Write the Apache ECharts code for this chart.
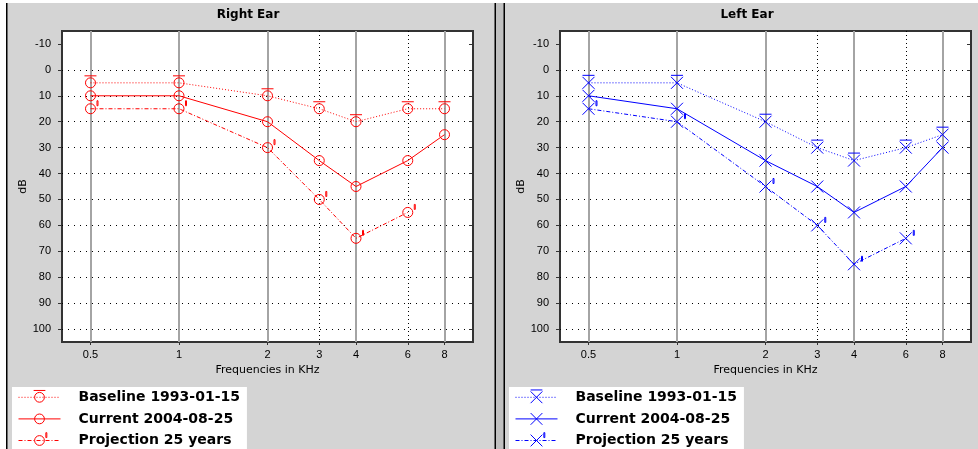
<!DOCTYPE html>
<html>
<head>
<meta charset="utf-8">
<title>Audiogram</title>
<script src="https://cdn.jsdelivr.net/npm/echarts@6/dist/echarts.min.js"></script>
<style>
  html, body { margin: 0; padding: 0; background: #ffffff; }
  #chart { width: 978px; height: 449px; }
</style>
</head>
<body>
<div id="chart"></div>
<script>
// Test frequencies (kHz) and hearing thresholds (dB HL)
const freqs = [0.5, 1, 2, 3, 4, 6, 8];

const rightBaseline   = [5, 5, 10, 15, 20, 15, 15];
const rightCurrent    = [10, 10, 20, 35, 45, 35, 25];
const rightProjection = [15, 15, 30, 50, 65, 55];

const leftBaseline    = [5, 5, 20, 30, 35, 30, 25];
const leftCurrent     = [10, 15, 35, 45, 55, 45, 30];
const leftProjection  = [15, 20, 45, 60, 75, 65];

// Axis ticks and grid lines
const dbTicks     = [-10, 0, 10, 20, 30, 40, 50, 60, 70, 80, 90, 100];
const dbGridLines = [0, 10, 20, 30, 40, 50, 60, 70, 80, 90, 100];
const octaveLines = [0.5, 1, 2, 4, 8];
const midOctaveLines = [3, 6];

const seriesNames = ['Baseline 1993-01-15', 'Current 2004-08-25', 'Projection 25 years'];

const RED = '#ff0000';
const BLUE = '#0000ff';
const AXIS_FONT = 'Liberation Sans';
const NAME_FONT = 'DejaVu Sans';

// Marker shapes, drawn in an 18x18 box centred on (9,9)
const BOX = 'M0 0M18 18';
const CIRCLE = 'M4 9A5 5 0 1 1 14 9A5 5 0 1 1 4 9Z';
const CROSS = 'M3 3L15 15M15 3L3 15';
const BAR_O = 'M3 2L15 2';
const BAR_X = 'M3 1.5L15 1.5';
const FLAG_O = 'M15.5 1L16.5 1L16.5 6L15.5 6Z';
const FLAG_X = 'M16.5 1L17.5 1L17.5 6L16.5 6Z';

const symbols = {
  right: [
    'path://' + BOX + CIRCLE + BAR_O,
    'path://' + BOX + CIRCLE,
    'path://' + BOX + CIRCLE + FLAG_O
  ],
  left: [
    'path://' + BOX + CROSS + BAR_X,
    'path://' + BOX + CROSS,
    'path://' + BOX + CROSS + FLAG_X
  ]
};
const lineTypes = [[1, 2], 'solid', [4, 2, 1, 2]];
const sideColor = { right: RED, left: BLUE };

function pairs(vals) {
  return vals.map((v, i) => [freqs[i], v]);
}

function makeSeries(side, idx, vals, axisIndex) {
  const color = sideColor[side];
  return {
    type: 'line',
    name: side + '|' + seriesNames[idx],
    xAxisIndex: axisIndex,
    yAxisIndex: axisIndex,
    data: pairs(vals),
    symbol: symbols[side][idx],
    symbolSize: 18,
    symbolKeepAspect: true,
    itemStyle: { color: 'rgba(0,0,0,0)', borderColor: color, borderWidth: 1 },
    lineStyle: { color: color, width: 1, type: lineTypes[idx] },
    emphasis: { disabled: true },
    z: 3
  };
}

function xAxesFor(grid) {
  const common = {
    gridIndex: grid,
    type: 'log',
    logBase: 2,
    min: 0.4,
    max: 10,
    axisLine: { show: false, onZero: false },
    axisLabel: { show: false },
    axisTick: { show: false },
    splitLine: { show: false }
  };
  return [
    Object.assign({}, common, {
      position: 'bottom',
      name: 'Frequencies in KHz',
      nameLocation: 'middle',
      nameGap: 19,
      nameTextStyle: { fontFamily: NAME_FONT, fontSize: 11, color: '#000' },
      axisTick: { show: true, length: 3, customValues: freqs, lineStyle: { color: '#333' } },
      axisLabel: {
        show: true, margin: 7, customValues: freqs,
        fontFamily: AXIS_FONT, fontSize: 11, color: '#000',
        formatter: v => String(v)
      }
    }),
    Object.assign({}, common, {
      position: 'top',
      axisTick: { show: false, customValues: octaveLines },
      splitLine: { show: true, lineStyle: { color: '#a4a4a4', width: 2 } }
    }),
    Object.assign({}, common, {
      position: 'top',
      axisTick: { show: false, customValues: midOctaveLines },
      splitLine: { show: true, lineStyle: { color: '#000', width: 1, type: [1, 3] } }
    })
  ];
}

function yAxesFor(grid) {
  const common = {
    gridIndex: grid,
    type: 'value',
    inverse: true,
    min: -15,
    max: 105,
    axisLine: { show: false, onZero: false },
    axisLabel: { show: false },
    axisTick: { show: false },
    splitLine: { show: false }
  };
  return [
    Object.assign({}, common, {
      position: 'left',
      name: 'dB',
      nameLocation: 'middle',
      nameGap: 26,
      nameTextStyle: { fontFamily: NAME_FONT, fontSize: 11, color: '#000' },
      axisTick: { show: true, length: 4, customValues: dbTicks, lineStyle: { color: '#333' } },
      axisLabel: {
        show: true, margin: 11, customValues: dbTicks,
        fontFamily: AXIS_FONT, fontSize: 11, color: '#000'
      }
    }),
    Object.assign({}, common, {
      position: 'right',
      axisTick: { show: true, inside: true, length: 4, customValues: dbTicks, lineStyle: { color: '#333' } }
    }),
    Object.assign({}, common, {
      position: 'left',
      axisTick: { show: false, customValues: dbGridLines },
      splitLine: { show: true, lineStyle: { color: '#000', width: 1, type: [1, 5] } }
    })
  ];
}

function legendFor(side, left) {
  const color = sideColor[side];
  return {
    orient: 'vertical',
    left: left,
    top: 387,
    height: 90,
    padding: [1, 7, 6, 6],
    backgroundColor: '#ffffff',
    itemWidth: 42,
    itemHeight: 22,
    itemGap: 3,
    selectedMode: false,
    data: seriesNames.map((n, i) => ({
      name: side + '|' + n,
      itemStyle: { color: 'rgba(0,0,0,0)', borderColor: color, borderWidth: 1 },
      lineStyle: { color: color, width: 1, type: lineTypes[i] }
    })),
    formatter: name => name.split('|')[1],
    textStyle: {
      fontFamily: NAME_FONT, fontWeight: 'bold', fontSize: 14, color: '#000',
      padding: [0, 0, 0, 13]
    }
  };
}

const gridBox = { top: 31, width: 411, height: 311, show: true, backgroundColor: '#ffffff', borderColor: '#333333', borderWidth: 2 };

const option = {
  animation: false,
  backgroundColor: '#d4d4d4',
  grid: [
    Object.assign({ left: 62 }, gridBox),
    Object.assign({ left: 560 }, gridBox)
  ],
  xAxis: xAxesFor(0).concat(xAxesFor(1)),
  yAxis: yAxesFor(0).concat(yAxesFor(1)),
  legend: [legendFor('right', 12), legendFor('left', 509)],
  graphic: {
    elements: [
      { type: 'rect', shape: { x: 0, y: 0, width: 978, height: 3 }, style: { fill: '#ffffff' }, silent: true },
      { type: 'rect', shape: { x: 0, y: 0, width: 6, height: 449 }, style: { fill: '#ffffff' }, silent: true },
      { type: 'rect', shape: { x: 6, y: 3, width: 1.5, height: 446 }, style: { fill: '#000000' }, silent: true },
      { type: 'rect', shape: { x: 495, y: 3, width: 10, height: 446 }, style: { fill: '#c0c0c0' }, silent: true },
      { type: 'rect', shape: { x: 494.5, y: 3, width: 1.5, height: 446 }, style: { fill: '#000000' }, silent: true },
      { type: 'rect', shape: { x: 503.5, y: 3, width: 1.5, height: 446 }, style: { fill: '#000000' }, silent: true },
      { type: 'text', x: 248, y: 15, silent: true,
        style: { text: 'Right Ear', font: 'bold 12px "DejaVu Sans"', fill: '#000', align: 'center', verticalAlign: 'middle' } },
      { type: 'text', x: 747, y: 15, silent: true,
        style: { text: 'Left Ear', font: 'bold 12px "DejaVu Sans"', fill: '#000', align: 'center', verticalAlign: 'middle' } }
    ]
  },
  series: [
    makeSeries('right', 0, rightBaseline, 0),
    makeSeries('right', 1, rightCurrent, 0),
    makeSeries('right', 2, rightProjection, 0),
    makeSeries('left', 0, leftBaseline, 3),
    makeSeries('left', 1, leftCurrent, 3),
    makeSeries('left', 2, leftProjection, 3)
  ]
};

const chart = echarts.init(document.getElementById('chart'), null, { renderer: 'canvas' });
chart.setOption(option);
</script>
</body>
</html>
